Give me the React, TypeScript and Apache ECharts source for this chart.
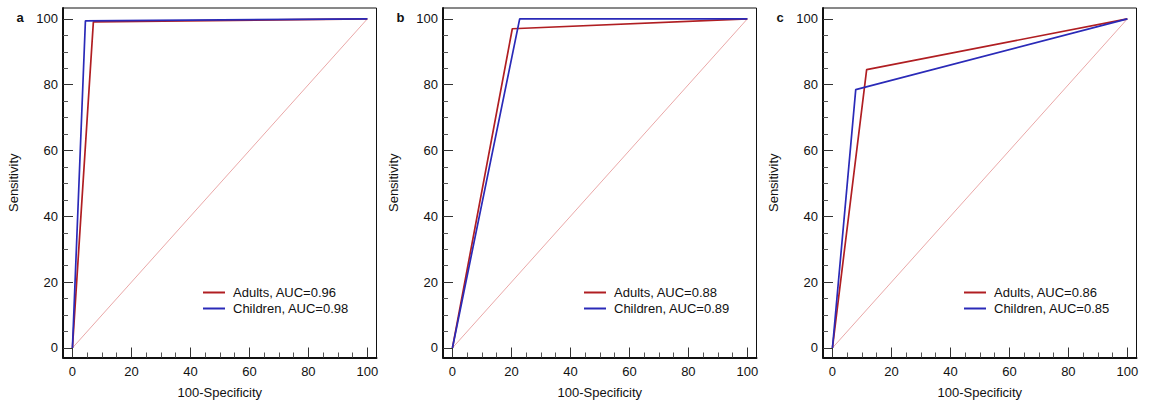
import React, { useEffect, useRef } from "react";
import * as echarts from "echarts";

const panelLetters = ["a", "b", "c"];
const adultsAUC = ["0.96", "0.88", "0.86"];
const childrenAUC = ["0.98", "0.89", "0.85"];

const adultsCurves: number[][][] = [
  [[0, 0], [7.1, 99.1], [100, 100]],
  [[0, 0], [20.3, 97.0], [100, 100]],
  [[0, 0], [11.6, 84.6], [100, 100]],
];
const childrenCurves: number[][][] = [
  [[0, 0], [4.4, 99.4], [100, 100]],
  [[0, 0], [22.8, 100], [100, 100]],
  [[0, 0], [7.9, 78.5], [100, 100]],
];
const diagonal = [[0, 0], [100, 100]];

const majorTicks = [0, 20, 40, 60, 80, 100];
const minorTicks = [5, 10, 15, 25, 30, 35, 45, 50, 55, 65, 70, 75, 85, 90, 95];

const FONT = "'Liberation Sans', Arial, sans-serif";
const RED = "#b01e22";
const BLUE = "#2a2ab8";

export default function App() {
  const ref = useRef<HTMLDivElement>(null);
  useEffect(() => {
    if (!ref.current) return;
    const chart = echarts.init(ref.current, null, { renderer: "svg" });
    const lefts = [63, 443, 823];
    const legendLefts = [203, 584, 964];
    const grids: any[] = [];
    const xAxes: any[] = [];
    const yAxes: any[] = [];
    const series: any[] = [];
    const legends: any[] = [];
    const titles: any[] = [];
    const xMin = -3.2, xMax = 103.1, yMin = -2.9, yMax = 103.3;
    panelLetters.forEach((letter, i) => {
      grids.push({
        left: lefts[i], top: 8, width: 313.5, height: 349.5,
        show: true, borderColor: "#111", borderWidth: 1, backgroundColor: "transparent",
      });
      const common = { gridIndex: i, type: "value", splitLine: { show: false } };
      xAxes.push({
        ...common, min: xMin, max: xMax, position: "bottom",
        axisLine: { show: true, onZero: false, lineStyle: { color: "#111", width: 2 } },
        axisTick: { show: true, inside: true, length: 10, customValues: majorTicks, lineStyle: { color: "#333", width: 1 } },
        axisLabel: { customValues: majorTicks, margin: 7, fontSize: 13, color: "#111", fontFamily: FONT },
        name: "100-Specificity", nameLocation: "middle", nameGap: 28,
        nameTextStyle: { fontSize: 13, color: "#111", fontFamily: FONT },
      });
      xAxes.push({
        ...common, min: xMin, max: xMax, position: "bottom",
        axisLine: { show: false, onZero: false },
        axisTick: { show: true, inside: true, length: 5, customValues: minorTicks, lineStyle: { color: "#555", width: 1 } },
        axisLabel: { show: false, customValues: minorTicks },
      });
      yAxes.push({
        ...common, min: yMin, max: yMax, position: "left",
        axisLine: { show: true, onZero: false, lineStyle: { color: "#111", width: 2 } },
        axisTick: { show: true, inside: true, length: 10, customValues: majorTicks, lineStyle: { color: "#333", width: 1 } },
        axisLabel: { customValues: majorTicks, margin: 5, fontSize: 13, color: "#111", fontFamily: FONT },
        name: "Sensitivity", nameLocation: "middle", nameGap: 43,
        nameTextStyle: { fontSize: 13, color: "#111", fontFamily: FONT },
      });
      yAxes.push({
        ...common, min: yMin, max: yMax, position: "left",
        axisLine: { show: false, onZero: false },
        axisTick: { show: true, inside: true, length: 5, customValues: minorTicks, lineStyle: { color: "#555", width: 1 } },
        axisLabel: { show: false, customValues: minorTicks },
      });
      const xi = i * 2, yi = i * 2;
      series.push({
        type: "line", name: "ref" + i, xAxisIndex: xi, yAxisIndex: yi, data: diagonal,
        symbol: "none", silent: true, lineStyle: { color: "#eaa8a8", width: 1 },
      });
      const aName = `Adults, AUC=${adultsAUC[i]}`;
      const cName = `Children, AUC=${childrenAUC[i]}`;
      series.push({
        type: "line", name: aName, xAxisIndex: xi, yAxisIndex: yi, data: adultsCurves[i],
        symbol: "none", lineStyle: { color: RED, width: 1.7 }, itemStyle: { color: RED },
      });
      series.push({
        type: "line", name: cName, xAxisIndex: xi, yAxisIndex: yi, data: childrenCurves[i],
        symbol: "none", lineStyle: { color: BLUE, width: 1.7 }, itemStyle: { color: BLUE },
      });
      legends.push({
        data: [aName, cName], left: legendLefts[i], top: 285, orient: "vertical",
        icon: "rect", itemWidth: 22, itemHeight: 2, itemGap: 1, padding: 0, selectedMode: false,
        textStyle: { fontSize: 13, color: "#111", fontFamily: FONT, padding: [0, 0, 0, 3], lineHeight: 15 },
      });
      titles.push({
        text: letter, left: [16.5, 396.5, 776.5][i], top: 11, padding: 0,
        textStyle: { fontSize: 13, fontWeight: "bold", color: "#111", fontFamily: FONT },
      });
    });
    chart.setOption({
      animation: false,
      backgroundColor: "#fff",
      title: titles,
      grid: grids,
      xAxis: xAxes,
      yAxis: yAxes,
      legend: legends,
      series,
    });
    return () => chart.dispose();
  }, []);
  return <div ref={ref} style={{ position: "fixed", left: 0, top: 0, width: 1151, height: 407 }} />;
}
